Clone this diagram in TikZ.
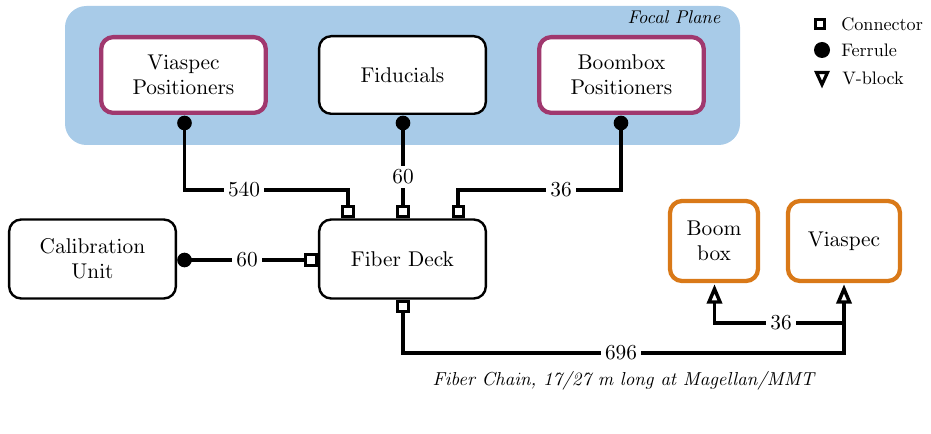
\documentclass[tikz,border=0pt]{standalone}
\usetikzlibrary{arrows.meta,calc}
\definecolor{fpblue}{RGB}{168,203,232}
\definecolor{plum}{RGB}{160,56,110}
\definecolor{amber}{RGB}{217,121,24}
\font\myMainF=cmr10 at 16pt
\font\mySmallF=cmr10 at 13.6pt
\font\myItF=cmti10 at 13.8pt
\font\myCapF=cmti10 at 14.1pt
\newcommand{\myMainFont}{\fontsize{16}{18.75}\selectfont\myMainF}
\newcommand{\mySmallFont}{\fontsize{13.6}{16}\selectfont\mySmallF}
\newcommand{\myItFont}{\fontsize{13.8}{16}\selectfont\myItF}
\newcommand{\myCapFont}{\fontsize{14.1}{16}\selectfont\myCapF}
\begin{document}
\begin{tikzpicture}[x=0.75pt,y=-0.75pt,
  box/.style={draw=black, line width=1.8pt, rounded corners=9pt, fill=white,
    align=center, font=\myMainFont, inner sep=0pt,
    minimum width=125pt, minimum height=58.2pt},
  pbox/.style={box, draw=plum, line width=3.2pt, minimum width=123.5pt, minimum height=56.8pt},
  obox/.style={box, draw=amber, line width=3.2pt, minimum height=60pt},
  ferrule/.style={circle, fill=black, inner sep=0pt, minimum size=11pt},
  conn/.style={rectangle, draw=black, fill=white, line width=2pt, inner sep=0pt, minimum size=7.8pt},
  wire/.style={line width=2.6pt, line join=miter},
  vtri/.style={line width=2.6pt, line join=miter, fill=white},
  lbl/.style={fill=white, font=\myMainFont, inner sep=3pt}
]
\useasboundingbox (0,0) rectangle (931,434);

% focal plane
\node[fill=fpblue, rounded corners=16pt, minimum width=506.25pt, minimum height=104.25pt, inner sep=0pt] (fp) at (402.5,75.5) {};
\node[anchor=base east, font=\myItFont] (fpl) at (725,23.5) {Focal Plane};

% boxes
\node[pbox] (vp) at (183.5,75) {Viaspec\\Positioners};
\node[box] (fid) at (402.5,75) {Fiducials};
\node[pbox] (bp) at (621.5,75) {Boombox\\Positioners};
\node[box, minimum height=59.25pt] (fd) at (402.5,259) {Fiber Deck};
\node[box, minimum height=59.25pt] (cal) at (92.5,259) {Calibration\\Unit};
\node[obox, minimum width=66pt] (bb) at (714,241) {Boom\\box};
\node[obox, minimum width=84pt] (vs) at (844,241) {Viaspec};

% coordinates
\coordinate (j1) at (348,190);
\coordinate (j3) at (458,190);
\coordinate (j4) at (844,353);
\coordinate (j5) at (844,323);
\coordinate (v1) at (714.5,302);
\coordinate (v2) at (844,302);

% wires
\draw[wire] (184.5,123) |- (j1) -- (348,211);
\draw[wire] (403,123) -- (403,211);
\draw[wire] (621,123) |- (j3) -- (458,211);
\draw[wire] (184.5,260) -- (311,260);
\draw[wire] (403,306) |- (j4) -- (v2);
\draw[wire] (j5) -| (v1);

% v-blocks
\draw[vtri] ($(v1)+(-5.5,0)$) -- ($(v1)+(5.5,0)$) -- ($(v1)+(0,-13)$) -- cycle;
\draw[vtri] ($(v2)+(-5.5,0)$) -- ($(v2)+(5.5,0)$) -- ($(v2)+(0,-13)$) -- cycle;

% ferrules
\node[ferrule] (f1) at (184.5,123) {};
\node[ferrule] (f2) at (403,123) {};
\node[ferrule] (f3) at (621,123) {};
\node[ferrule] (f4) at (184.5,260) {};

% connectors
\node[conn] (c1) at (348,211.5) {};
\node[conn] (c2) at (403,211.5) {};
\node[conn] (c3) at (458.5,211.5) {};
\node[conn] (c4) at (311,260) {};
\node[conn] (c5) at (403,306.5) {};

% labels
\node[lbl] (l540) at (244,190) {540};
\node[lbl] (l60a) at (403,177) {60};
\node[lbl] (l36a) at (561,190) {36};
\node[lbl] (l60b) at (247,260) {60};
\node[lbl] (l696) at (621,353) {696};
\node[lbl] (l36b) at (781,323) {36};

\node[font=\myCapFont] (cap) at (623.5,381) {Fiber Chain, 17/27 m long at Magellan/MMT};

% legend
\node[rectangle, draw=black, fill=white, line width=2.2pt, inner sep=0pt, minimum size=7.3pt] (lg1) at (820,24) {};
\node[circle, fill=black, inner sep=0pt, minimum size=12pt] (lg2) at (822,50) {};
\draw[vtri, line width=2.4pt] (816.5,72.5) -- (827.5,72.5) -- (822,84.5) -- cycle;
\node[anchor=west, font=\mySmallFont, inner sep=0pt] (t1) at (841,24) {Connector};
\node[anchor=west, font=\mySmallFont, inner sep=0pt] (t2) at (841,50) {Ferrule};
\node[anchor=west, font=\mySmallFont, inner sep=0pt] (t3) at (842,78) {V-block};
\end{tikzpicture}
\end{document}
